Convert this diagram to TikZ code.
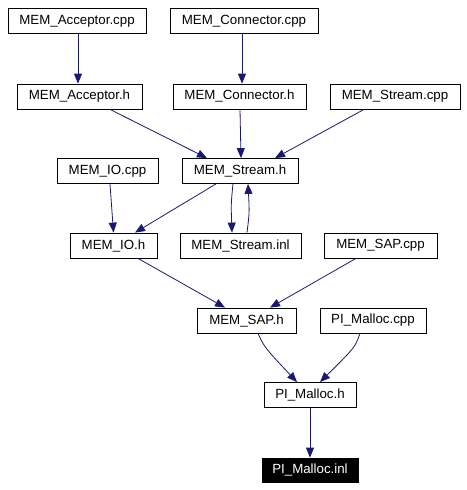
\documentclass[tikz,border=0pt]{standalone}
\usepackage{fontspec}
\setmainfont{Liberation Sans}
\usetikzlibrary{positioning,arrows.meta}
\definecolor{edgeblue}{RGB}{25,25,112}

\begin{document}
\begin{tikzpicture}[x=1pt,y=-1pt,
    file/.style={draw,thick,minimum height=25pt,inner sep=0pt,font=\fontsize{13.3}{15}\selectfont},
    dep/.style={draw=edgeblue,line width=0.8pt,-{Triangle[width=8pt,length=10pt]},fill=none}]
    \useasboundingbox (0,0) rectangle (466,490);
    %% top row
    \node[file,minimum width=138pt] (acpcpp) at (77,21) {MEM\_Acceptor.cpp};
    \node[file,minimum width=148pt] (concpp) at (244,21) {MEM\_Connector.cpp};
    %% headers
    \node[file,minimum width=125pt] (acph) at (79.5,96.5) {MEM\_Acceptor.h};
    \node[file,minimum width=133pt] (conh) at (239.5,96.5) {MEM\_Connector.h};
    \node[file,minimum width=130pt] (strcpp) at (395,96.5) {MEM\_Stream.cpp};
    \node[file,minimum width=101pt] (iocpp) at (107.5,171) {MEM\_IO.cpp};
    \node[file,minimum width=116pt] (strh) at (240,171) {MEM\_Stream.h};
    \node[file,minimum width=87pt] (ioh) at (113.5,245.5) {MEM\_IO.h};
    \node[file,minimum width=121pt] (strinl) at (240.5,245.5) {MEM\_Stream.inl};
    \node[file,minimum width=113pt] (sapcpp) at (380.5,245.5) {MEM\_SAP.cpp};
    \node[file,minimum width=99pt] (saph) at (246.5,320.5) {MEM\_SAP.h};
    \node[file,minimum width=106pt] (pmcpp) at (373,320.5) {PI\_Malloc.cpp};
    \node[file,minimum width=92pt] (pmh) at (310,395) {PI\_Malloc.h};
    %% the file itself
    \node[file,minimum width=96pt,minimum height=24pt,fill=black,text=white] (pminl) at (310,470) {PI\_Malloc.inl};
    % edges
    \draw[dep] ([xshift=1pt]acpcpp.south) -- ([xshift=-1.5pt]acph.north);
    \draw[dep] ([xshift=-2pt]concpp.south) -- ([xshift=2.5pt]conh.north);
    \draw[dep] ([xshift=30.5pt]acph.south) -- ([xshift=-33pt]strh.north);
    \draw[dep] ([xshift=0.5pt]conh.south) -- ([xshift=1pt]strh.north);
    \draw[dep] ([xshift=-31pt]strcpp.south) -- ([xshift=35pt]strh.north);
    \draw[dep] ([xshift=2.5pt]iocpp.south) -- (ioh.north);
    \draw[dep] ([xshift=-24pt]strh.south) -- ([xshift=21.5pt]ioh.north);
    \draw[dep] ([xshift=-7pt]strh.south) .. controls ([xshift=-9pt,yshift=-20pt]strh.south) .. ([xshift=-8.5pt]strinl.north);
    \draw[dep] ([xshift=6.5pt]strinl.north) .. controls ([xshift=9pt,yshift=20pt]strinl.north) .. ([xshift=8pt]strh.south);
    \draw[dep] ([xshift=24.5pt]ioh.south) -- ([xshift=-21.5pt]saph.north);
    \draw[dep] ([xshift=-24.5pt]sapcpp.south) -- ([xshift=23.5pt]saph.north);
    \draw[dep] ([xshift=11.5pt]saph.south) .. controls ([xshift=18pt,yshift=-14pt]saph.south) .. ([xshift=-13pt]pmh.north);
    \draw[dep] ([xshift=-13pt]pmcpp.south) .. controls ([xshift=-18pt,yshift=-14pt]pmcpp.south) .. ([xshift=10pt]pmh.north);
    \draw[dep] (pmh.south) -- (pminl.north);
\end{tikzpicture}
\end{document}
